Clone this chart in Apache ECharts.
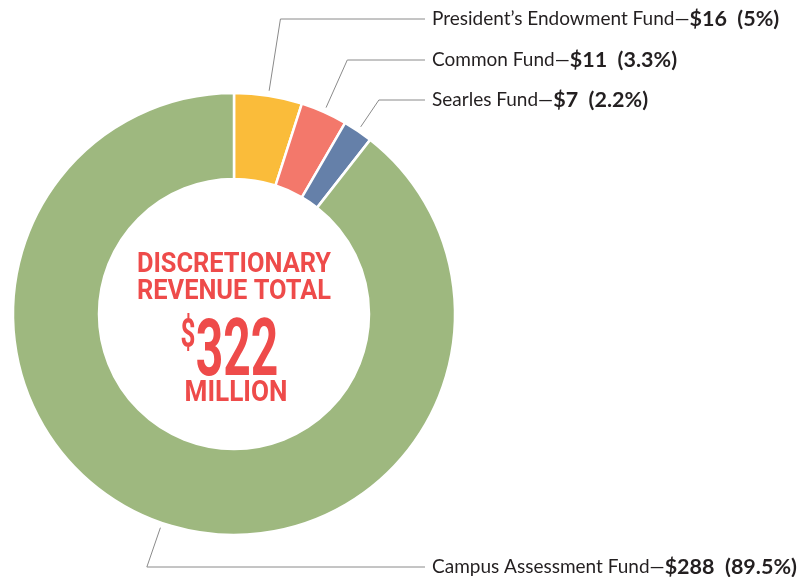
<!DOCTYPE html>
<html>
<head>
<meta charset="utf-8">
<style>
html, body { margin: 0; padding: 0; background: #fff; }
#main { width: 805px; height: 577px; }
</style>
<script src="https://cdn.jsdelivr.net/npm/echarts@6/dist/echarts.min.js"></script>
</head>
<body>
<div id="main"></div>
<script>
// fund names, amounts ($ million) and the shares printed on the chart
var fundNames = ['President’s Endowment Fund', 'Common Fund', 'Searles Fund', 'Campus Assessment Fund'];
var fundValues = [16, 11, 7, 288];
var fundShares = ['5%', '3.3%', '2.2%', '89.5%'];
var fundColors = ['#FABC3A', '#F3786B', '#6580A9', '#9EB87F'];
var totalAmount = '322';

// layout
var cx = 234, cy = 314, rOut = 221, rIn = 135;
var labelX = 432;
var labelY = [19, 60, 100, 567];
var red = '#EE4B4A';

var chart = echarts.init(document.getElementById('main'));

var pieData = [];
for (var i = 0; i < fundNames.length; i++) {
    pieData.push({
        name: fundNames[i],
        value: fundValues[i],
        share: fundShares[i],
        itemStyle: { color: fundColors[i] }
    });
}

var option = {
    animation: false,
    series: [{
        type: 'pie',
        center: [cx, cy],
        radius: [rIn, rOut],
        startAngle: 90,
        clockwise: true,
        avoidLabelOverlap: false,
        itemStyle: { borderColor: '#fff', borderWidth: 2.5 },
        label: {
            show: true,
            formatter: function (p) {
                return '{n|' + p.name + '—}{b|$' + p.value + '  (' + p.data.share + ')}';
            },
            rich: {
                n: { fontFamily: 'Lato', fontSize: 19, color: '#231f20' },
                b: { fontFamily: 'Lato', fontSize: 21.5, fontWeight: 'bold', color: '#231f20' }
            }
        },
        labelLine: { show: true, lineStyle: { color: '#8a8a8a', width: 1 } },
        labelLayout: function (params) {
            var p0 = params.labelLinePoints[0];
            var dx = p0[0] - cx, dy = p0[1] - cy;
            var len = Math.sqrt(dx * dx + dy * dy);
            dx /= len; dy /= len;
            var sx = cx + dx * (rOut + 5), sy = cy + dy * (rOut + 5);
            var ly = labelY[params.dataIndex];
            var ex = sx + dx * (ly - sy) / dy;
            return {
                x: labelX,
                y: ly,
                align: 'left',
                verticalAlign: 'middle',
                labelLinePoints: [[sx, sy], [ex, ly], [labelX - 7, ly]]
            };
        },
        data: pieData
    }],
    graphic: [
        {
            type: 'text', x: cx, y: 265, scaleX: 0.94,
            style: { text: 'DISCRETIONARY', fill: red, font: 'bold 27px Roboto', textAlign: 'center', textVerticalAlign: 'middle' }
        },
        {
            type: 'text', x: cx, y: 292, scaleX: 0.94,
            style: { text: 'REVENUE TOTAL', fill: red, font: 'bold 27px Roboto', textAlign: 'center', textVerticalAlign: 'middle' }
        },
        {
            type: 'text', x: 188, y: 337, scaleX: 0.65,
            style: { text: '$', fill: red, font: 'bold 40px Roboto', textAlign: 'center', textVerticalAlign: 'middle' }
        },
        {
            type: 'text', x: 237, y: 355, scaleX: 0.6,
            style: { text: totalAmount, fill: red, font: 'bold 80px Roboto', textAlign: 'center', textVerticalAlign: 'middle' }
        },
        {
            type: 'text', x: 236, y: 394, scaleX: 0.9,
            style: { text: 'MILLION', fill: red, font: 'bold 29px Roboto', textAlign: 'center', textVerticalAlign: 'middle' }
        }
    ]
};

chart.setOption(option);
window.addEventListener('resize', function () {
    chart.resize();
});
</script>
</body>
</html>
